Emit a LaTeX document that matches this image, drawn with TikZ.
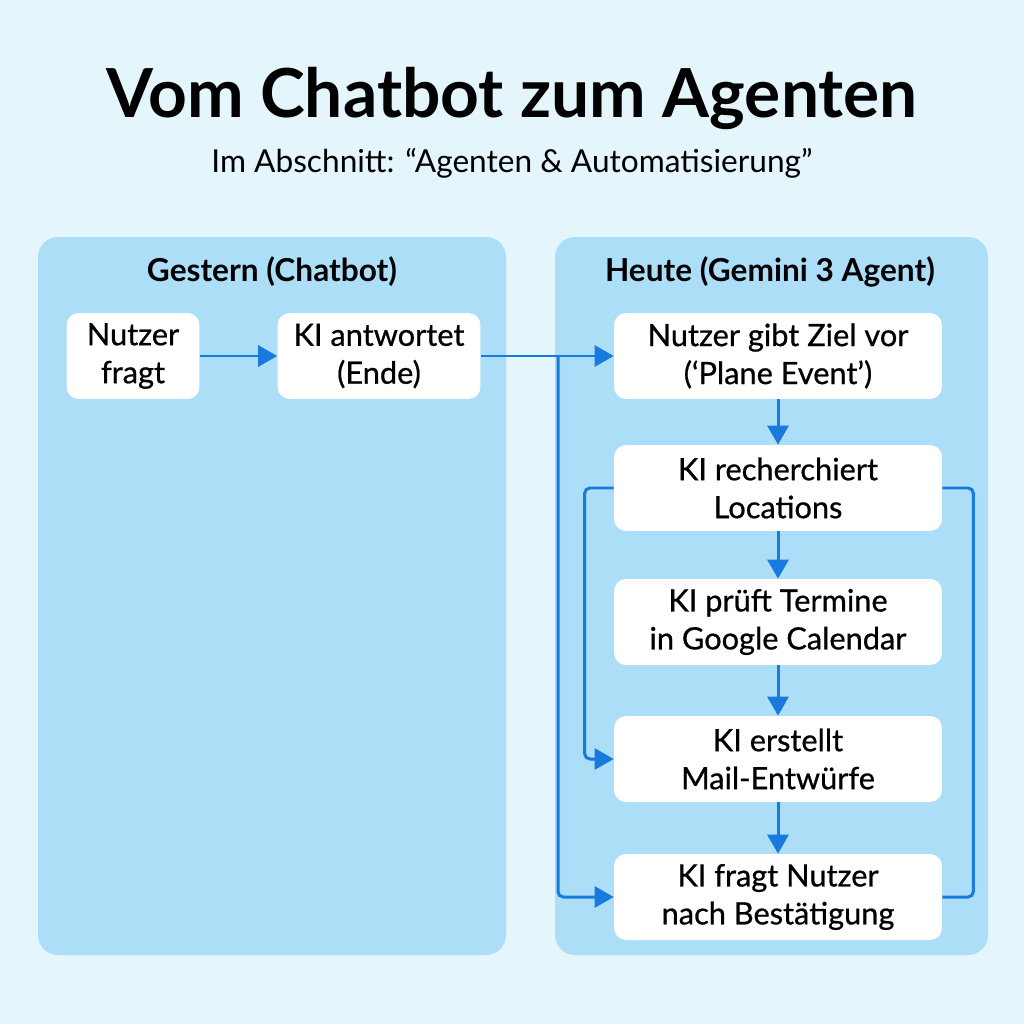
\documentclass[tikz,border=0pt]{standalone}
\usepackage{fontspec}
\setmainfont{Lato}
\newfontfamily\boxfont{Lato}[FakeBold=0.7]
\usetikzlibrary{arrows.meta}

\definecolor{bgblue}{RGB}{228,246,252}
\definecolor{panelblue}{RGB}{172,222,248}
\definecolor{flowblue}{RGB}{24,122,222}

\begin{document}
\begin{tikzpicture}[
    x=0.02cm, y=-0.02cm,
    panel/.style={fill=panelblue, draw=none, rounded corners=0.4cm},
    paneltitle/.style={font=\fontsize{18}{21}\selectfont\bfseries},
    stepbox/.style={
        rectangle,
        rounded corners=0.24cm,
        fill=white,
        draw=none,
        align=center,
        font=\fontsize{17.5}{21.6}\selectfont\boxfont,
        inner sep=2pt,
        minimum height=1.72cm
    },
    flow/.style={-{Triangle[length=3.8mm,width=4.2mm]}, line width=1.7pt, draw=flowblue, rounded corners=3pt},
    link/.style={line width=1.7pt, draw=flowblue, rounded corners=3pt}
]

% =========================================================
% Background and panels
% =========================================================
\fill[bgblue] (0,0) rectangle (1024,1024);
\useasboundingbox (0,0) rectangle (1024,1024);

\fill[panel] (38,237) rectangle (506,955);
\fill[panel] (555,237) rectangle (988,955);

% Title
\node (title) at (512,98) {\fontsize{38.5}{42}\selectfont\bfseries Vom Chatbot zum Agenten};
\node (subtitle) at (512,163) {\fontsize{18}{21}\selectfont Im Abschnitt: “Agenten \& Automatisierung”};

% Panel headers
\node[paneltitle] (gestern) at (272,272) {Gestern (Chatbot)};
\node[paneltitle] (heute) at (770,272) {Heute (Gemini 3 Agent)};

% =========================================================
% Gestern: chatbot
% =========================================================
\node[stepbox, minimum width=2.66cm] (frage) at (133,356) {Nutzer\\fragt};
\node[stepbox, minimum width=4.06cm] (antwort) at (379,356) {KI antwortet\\(Ende)};

% =========================================================
% Heute: agent
% =========================================================
\node[stepbox, minimum width=6.56cm] (ziel) at (778,356) {Nutzer gibt Ziel vor\\(‘Plane Event’)};
\node[stepbox, minimum width=6.56cm] (recherche) at (778,488) {KI recherchiert\\Locations};
\node[stepbox, minimum width=6.56cm] (termine) at (778,622) {KI prüft Termine\\in Google Calendar};
\node[stepbox, minimum width=6.56cm] (mails) at (778,759) {KI erstellt\\Mail-Entwürfe};
\node[stepbox, minimum width=6.56cm] (bestaetigung) at (778,897) {KI fragt Nutzer\\nach Bestätigung};

\coordinate (split) at (558,356);

% Connectors
\draw[flow] (frage) -- (antwort);
\draw[flow] (antwort) -- (ziel);
\draw[flow] (split) |- (bestaetigung);

\draw[flow] (ziel) -- (recherche);
\draw[flow] (recherche) -- (termine);
\draw[flow] (termine) -- (mails);
\draw[flow] (mails) -- (bestaetigung);

% Loops around the steps
\draw[flow] (recherche.west) -- ++(-29,0) |- (mails.west);
\draw[link] (recherche.east) -- ++(31,0) |- (bestaetigung.east);

\end{tikzpicture}
\end{document}
